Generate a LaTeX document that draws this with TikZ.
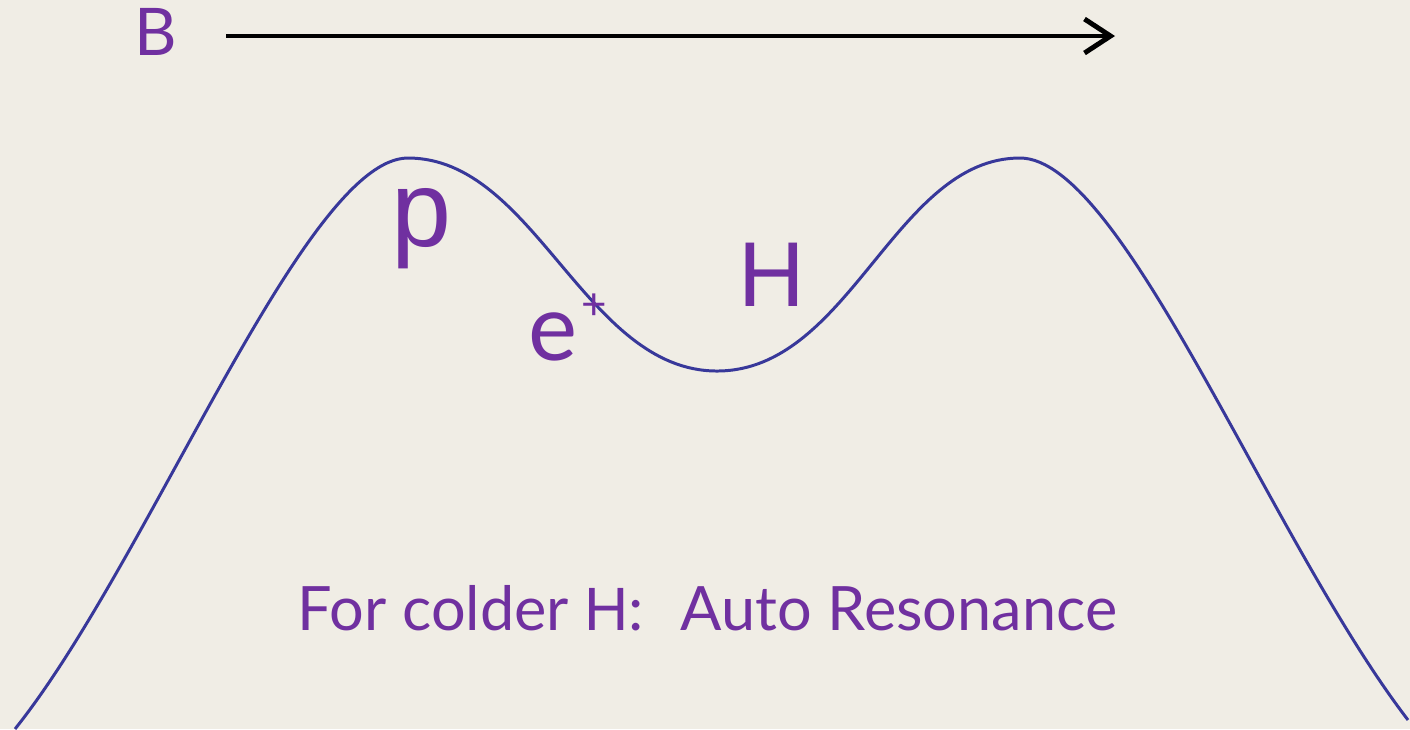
\documentclass[tikz,border=0pt]{standalone}
\usepackage{fontspec}
\setmainfont{Lato}
\newfontfamily\arialfont{Liberation Sans}
\usetikzlibrary{arrows.meta}
\definecolor{resbg}{HTML}{F0EDE5}
\definecolor{respurple}{HTML}{7030A0}
\definecolor{resblue}{HTML}{38389A}

\begin{document}
\begin{tikzpicture}[
  x=0.01cm, y=-0.01cm,
  tag/.style={text=respurple, inner sep=0pt},
  hand/.style={tag, font=\fontsize{18.7}{20}\selectfont},
  bigsans/.style={tag, font=\arialfont\fontsize{#1}{#1}\selectfont},
  note/.style={tag, font=\fontsize{17.4}{19}\selectfont},
  well/.style={draw=resblue, line width=0.85pt},
  field/.style={-{Straight Barb[length=2.6mm, width=3.4mm]}, line width=1.4pt, draw=black}
]
  % page and background
  \fill[resbg] (0,0) rectangle (1410,729);
  \useasboundingbox (0,0) rectangle (1410,729);

  % field direction
  \node[hand, anchor=base] (field) at (156,55) {B};
  \coordinate (fieldstart) at (226,36);
  \coordinate (fieldend) at (1115,36);
  \draw[field] (fieldstart) -- (fieldend);

  % potential well
  \coordinate (leftfoot) at (15,729);
  \coordinate (leftpeak) at (408,158);
  \coordinate (trough) at (717,371);
  \coordinate (rightpeak) at (1020,158);
  \coordinate (rightfoot) at (1408,720);
  \draw[well] (leftfoot) .. controls (150,560) and (305,158) .. (leftpeak)
    .. controls (535,158) and (585,371) .. (trough)
    .. controls (850,371) and (895,158) .. (rightpeak)
    .. controls (1123,158) and (1270,540) .. (rightfoot);

  % particles
  \node[bigsans=30.7, anchor=base] (proton) at (422,246) {p};
  \node[bigsans=26.2, anchor=base] (hydrogen) at (772,306) {H};
  \node[tag, anchor=base, font=\fontsize{26.4}{28}\selectfont] (positron) at (568,360)
    {e\kern1pt\raisebox{11.5pt}{\fontsize{12.5}{12}\selectfont+}};

  % caption
  \node[note, anchor=base west] (caption) at (297,630)
    {For colder {\arialfont H}:\hspace{0.6em}Auto Resonance};
\end{tikzpicture}
\end{document}
